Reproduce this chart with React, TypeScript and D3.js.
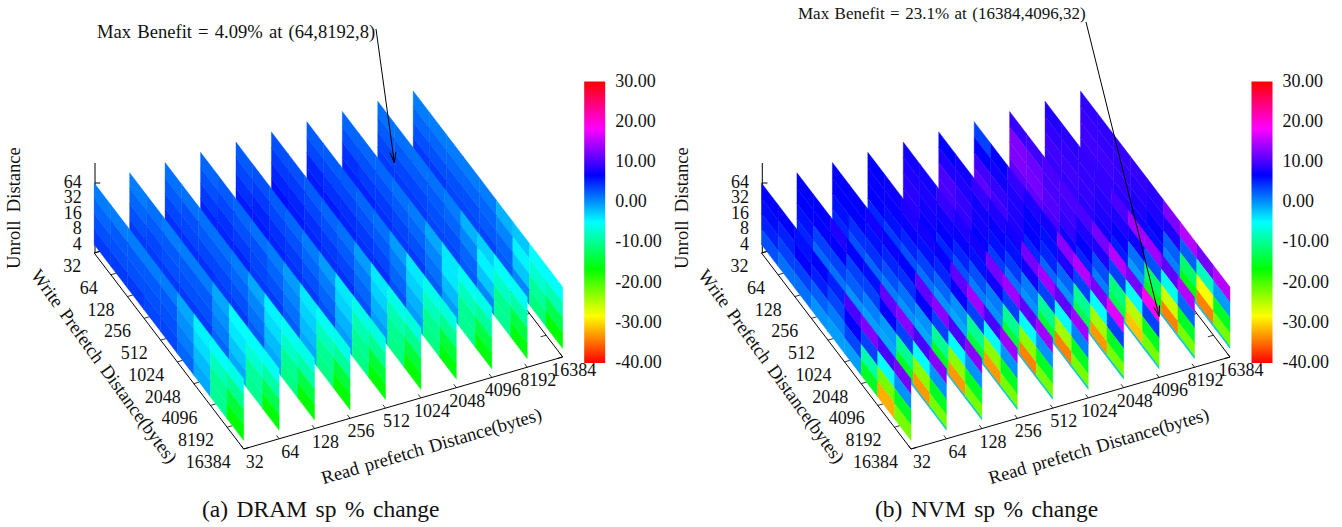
import React from "react";
import * as d3 from "d3";

const readTicks = ["32", "64", "128", "256", "512", "1024", "2048", "4096", "8192", "16384"];
const writeTicks = ["32", "64", "128", "256", "512", "1024", "2048", "4096", "8192", "16384"];
const unrollTicks = [64, 32, 16, 8, 4];
const colorTicks = [30, 20, 10, 0, -10, -20, -30, -40];

// each wall: one row per unroll band (top band first), one cell per write step
const dramWall0 = [
  [1, 1, 1, 1, 1, -1, -4.5, -5, -6],
  [2, 2.5, 2.5, 2.5, 2.5, 0, -3.5, -8, -10],
  [3, 3, 3, 3, 3, 1, -2, -10, -14],
  [4, 4, 4, 3.5, 3.5, 2, -1, -10, -16.5],
];
const dramWall1 = [
  [1, 1.5, 1, 1, 1, -1, -5, -5, -5.5],
  [2, 2.5, 2.5, 2.5, 2.5, 0, -4, -7, -9],
  [3, 3.5, 3, 3, 3, 1, -2.5, -9.5, -13],
  [4, 4, 4, 4, 4, 2, -1, -10, -16.5],
];
const dramWall2 = [
  [1.5, 1.5, 1.5, 1.5, 1, -1, -4.5, -5.5, -6],
  [2.5, 3, 2.5, 2.5, 2, 0.5, -3.5, -7.5, -9],
  [3.5, 3.5, 3.5, 3.5, 3, 1.5, -2, -10, -13.5],
  [4.5, 4.5, 4.5, 4, 4, 2.5, -1, -10.5, -16.5],
];
const dramWall3 = [
  [2, 2.5, 2, 1.5, 1, -0.5, -4, -5.5, -6],
  [3, 3.5, 3, 3, 2, 0.5, -3, -8, -9.5],
  [4, 4.5, 4, 3.5, 3, 1.5, -2, -10, -14],
  [5, 5, 5, 4, 4, 2.5, -1, -10.5, -16.5],
];
const dramWall4 = [
  [2.5, 3, 2.5, 2, 1, -0.5, -4, -6, -6.5],
  [3.5, 4, 3.5, 3, 2, 1, -3, -8.5, -10],
  [4.5, 5, 4.5, 4, 3, 2, -1.5, -10, -14],
  [5.5, 5.5, 5, 4.5, 4, 3, -0.5, -10.5, -16.5],
];
const dramWall5 = [
  [3, 3, 2.5, 2, 1.5, -0.5, -4, -6, -6.5],
  [4, 4, 3.5, 3, 2.5, 1, -3, -8.5, -10],
  [5, 5, 4.5, 4, 3.5, 2, -1.5, -10, -14],
  [6, 5.5, 5, 4.5, 4.5, 3, -0.5, -10.5, -16.5],
];
const dramWall6 = [
  [2.5, 2.5, 2.5, 2, 1.5, -0.5, -4, -6, -6.5],
  [3.5, 3.5, 3.5, 3, 2.5, 1, -3, -8, -10],
  [5, 4.5, 4.5, 4, 3.5, 2, -1.5, -10, -14],
  [5.5, 5.5, 5, 4.5, 4.5, 3, -0.5, -10.5, -16],
];
const dramWall7 = [
  [2, 2, 2, 1.5, 1, -1, -4, -5.5, -6],
  [3, 3, 3, 2.5, 2, 0.5, -4, -8, -9.5],
  [4.5, 4, 4, 3.5, 3, 1.5, -2, -10, -13.5],
  [5, 5, 4.5, 4, 4, 2.5, -0.5, -10, -16],
];
const dramWall8 = [
  [1.5, 1.5, 1.5, 1.5, 1, -1.5, -3, -5, -5.5],
  [2.5, 2.5, 2.5, 2.5, 2, 0.5, -4.5, -7.5, -9],
  [3.5, 3.5, 3.5, 3, 3, 2, -2.5, -10, -13.5],
  [4, 4, 4, 3.5, 3.5, 2.5, 0.5, -10, -16],
];
const dramWall9 = [
  [1, 1, 1, 1, 1, -1.5, -2.5, -5, -5],
  [2, 2, 2, 2, 2, 0.5, -4.5, -7, -8.5],
  [3, 3, 3, 3, 2.5, 2, -2.5, -9.5, -13],
  [4, 4, 3.5, 3.5, 3.5, 2.5, 0.5, -11, -16.5],
];

const nvmWall0 = [
  [6.7, 6.7, 6, 6.7, 5.2, 10, 12.5, 10, 12],
  [6.2, 5.2, 6.7, 5.3, 3.5, 6.7, 3.7, -5, 0],
  [5.2, 3.7, 3.7, 2.3, 1, 3.5, -9, -22, -15],
  [3, 1.5, 1.5, 0, -0.6, -0.6, -15, -32, -22],
];
const nvmWall1 = [
  [6.7, 6.7, 8, 6.7, 6, 11, 13, 10, 13],
  [6.7, 6.7, 6.7, 3.7, 3.7, 6.7, 3.7, -5, 0],
  [6, 3.7, 3.7, 2.3, 0.8, -0.5, -10, -23, -15],
  [5, 2, 1.5, 0, -0.6, -1, -15, -33, -22],
];
const nvmWall2 = [
  [6.7, 6.7, 7.5, 7, 6.7, 11, 13, 10, 13],
  [6.7, 6.7, 6, 5, 4.5, 6.7, 3.7, -5, 0],
  [6, 4.5, 4.5, 3, 1.5, 0, -10, -23, -15],
  [5, 3, 2, 1, 0, -1, -15, -33, -22],
];
const nvmWall3 = [
  [6.7, 7.2, 8, 7.5, 7, 11, 14, 10, 14],
  [7, 7, 7, 6, 5, 7, 3.7, -5, 0],
  [6.7, 6, 5, 3.7, 2, 0, -10, -23, -15],
  [5, 4, 3, 1.5, 0, -1, -14, -33, -22],
];
const nvmWall4 = [
  [7.5, 7.5, 9, 8, 7.5, 12, 14, 11, 14],
  [8, 7.8, 7.5, 7, 6, 7.5, 3.7, -5, 0],
  [8.5, 7.5, 6.7, 5, 3, 1, -10, -23, -15],
  [8.5, 7, 5, 3, 1, 0, -14, -34, -22],
];
const nvmWall5 = [
  [6.7, 7.5, 9, 8, 7.5, 12, 14, 11, 14],
  [8, 8, 7.5, 7, 6, 7.5, 3.7, -5, 0.8],
  [10, 9, 7.5, 6, 4, 1, -10, -24, -15],
  [10, 9, 6.7, 4, 1.5, 0, -14, -34, -22],
];
const nvmWall6 = [
  [3.7, 6.7, 9, 8, 7.5, 13, 15, 12, 17],
  [6.7, 7.5, 8, 7, 6, 8, 3.7, -5, 3.7],
  [9.6, 9, 8, 6.7, 5, 2, -10, -24, -15],
  [11, 9.6, 8, 5, 2, 0, -13, -33, -22],
];
const nvmWall7 = [
  [9, 9.5, 10, 10, 10, 12, 15, 12, 19],
  [12.5, 11.5, 10, 9.5, 8, 8, 3.7, -5, 3.7],
  [12.5, 12, 10.5, 9, 6.7, 3, -11, -25, -15],
  [11, 11, 10, 7.5, 5, 1, -13, -31, -22],
];
const nvmWall8 = [
  [8.1, 8.5, 9, 9, 10, 14, 14, 11, 15],
  [8.8, 9, 9, 8.5, 8, 7.5, 3, -6, 2],
  [9.6, 9.5, 9, 8, 7, 1.5, -12, -26, -15],
  [9.2, 9, 8.5, 7.5, 5.5, -0.5, -16, -34, -22],
];
const nvmWall9 = [
  [8.8, 8.8, 9, 9, 8.5, 12.5, 15, 12, 15],
  [9.2, 9, 9, 8.5, 8, 8, 2.3, -8, -0.5],
  [9.6, 9.5, 9, 8, 7, 2.3, -12, -28, -15],
  [9.2, 9, 8.5, 7.5, 6, 0.8, -16, -34, -22],
];

const dramWalls = [dramWall0, dramWall1, dramWall2, dramWall3, dramWall4, dramWall5, dramWall6, dramWall7, dramWall8, dramWall9];
const nvmWalls = [nvmWall0, nvmWall1, nvmWall2, nvmWall3, nvmWall4, nvmWall5, nvmWall6, nvmWall7, nvmWall8, nvmWall9];

// thin lighter strip along the foot of the NVM walls, none on the first one
const nvmFootStrip = [null, -2.5, -2.5, -2.5, -2.5, -2.5, -2.5, -2.5, -2.5, -2.5];
const dramFootStrip = [null, null, null, null, null, null, null, null, null, null];

const paletteValues = [30, 18.33, 6.67, -5, -16.67, -28.33, -40];
const paletteColors = ["#ff0000", "#ff00ff", "#0000ff", "#00ffff", "#00ff00", "#ffff00", "#ff0000"];

const color = d3.scaleLinear<string>().domain(paletteValues).range(paletteColors).clamp(true);

const readDx = d3.scalePoint<string>().domain(readTicks).range([0, 319]);
const readDy = d3.scalePoint<string>().domain(readTicks).range([0, -92]);
const writeDx = d3.scalePoint<string>().domain(writeTicks).range([0, 149.5]);
const writeDy = d3.scalePoint<string>().domain(writeTicks).range([0, 196]);
const unrollY = d3.scaleLog().base(2).domain([4, 64]).range([0, -61.5]);
const barY = d3.scaleLinear().domain([-40, 30]).range([363, 81.5]);

const baseY = 244.5;
const floorDrop = 8.5;
const serif = "'Liberation Serif', 'Times New Roman', serif";

type PanelProps = {
  id: string;
  left: number;
  walls: number[][][];
  footStrip: (number | null)[];
  note: string;
  noteX: number;
  noteY: number;
  noteSize: number;
  noteGap: number;
  arrowFrom: [number, number];
  arrowTo: [string, string, number];
  caption: string;
  captionX: number;
};

function Panel({ id, left, walls, footStrip, note, noteX, noteY, noteSize, noteGap, arrowFrom, arrowTo, caption, captionX }: PanelProps) {
  const px = (r: string, w: string) => left + readDx(r)! + writeDx(w)!;
  const py = (r: string, w: string, z: number) => baseY + readDy(r)! + writeDy(w)! + unrollY(z);
  const floor = (r: string, w: string): [number, number] => [px(r, w), baseY + floorDrop + readDy(r)! + writeDy(w)!];

  const cell = (r: string, w0: string, w1: string, z0: number, z1: number) =>
    d3.line()([
      [px(r, w0), py(r, w0, z0)],
      [px(r, w1), py(r, w1, z0)],
      [px(r, w1), py(r, w1, z1)],
      [px(r, w0), py(r, w0, z1)],
    ])! + "Z";

  const firstR = readTicks[0];
  const lastR = readTicks[9];
  const firstW = writeTicks[0];
  const lastW = writeTicks[9];
  const a = floor(firstR, firstW);
  const b = floor(firstR, lastW);
  const c = floor(lastR, lastW);
  const d = floor(lastR, firstW);

  const tip: [number, number] = [px(arrowTo[0], arrowTo[1]), py(arrowTo[0], arrowTo[1], arrowTo[2]) - 6.5];
  const ang = Math.atan2(tip[1] - arrowFrom[1], tip[0] - arrowFrom[0]);
  const barb = (s: number): [number, number] => [tip[0] - 11 * Math.cos(ang + s * 0.28), tip[1] - 11 * Math.sin(ang + s * 0.28)];

  const barLeft = left + 490;
  const labelStyle = { fontFamily: serif, fontSize: 18, fill: "#111" };
  const titleStyle = { fontFamily: serif, fontSize: 18.6, fill: "#111" };

  return (
    <g>
      <defs>
        <linearGradient id={id} x1="0" y1="0" x2="0" y2="1">
          {paletteValues.map((v, i) => (
            <stop key={i} offset={(30 - v) / 70} stopColor={paletteColors[i]} />
          ))}
        </linearGradient>
      </defs>

      {/* floor box and ticks go under the walls */}
      <path d={d3.line()([a, b, c, d, a])!} fill="none" stroke="#000" strokeWidth={1} />
      {writeTicks.map((w) => {
        const p = floor(firstR, w);
        const q = floor(lastR, w);
        return (
          <g key={w} stroke="#000" strokeWidth={0.8}>
            <line x1={p[0]} y1={p[1]} x2={p[0] + 5.5} y2={p[1] - 1.6} />
            <line x1={q[0]} y1={q[1]} x2={q[0] - 5.5} y2={q[1] + 1.6} />
          </g>
        );
      })}
      {readTicks.map((r) => {
        const p = floor(r, lastW);
        return <line key={r} x1={p[0]} y1={p[1]} x2={p[0] - 2.6} y2={p[1] - 3.4} stroke="#000" strokeWidth={0.8} />;
      })}
      <line x1={a[0] + 0.8} y1={163} x2={a[0] + 0.8} y2={a[1]} stroke="#000" strokeWidth={1} />
      {unrollTicks.map((z) => (
        <line key={z} x1={a[0] + 0.8} x2={a[0] + 6} y1={py(firstR, firstW, z)} y2={py(firstR, firstW, z)} stroke="#000" strokeWidth={1} />
      ))}

      {/* farthest wall first, so the front ones cover it */}
      {d3.range(walls.length - 1, -1, -1).map((i) => {
        const r = readTicks[i];
        return (
          <g key={r}>
            {walls[i].map((row, k) =>
              row.map((v, j) => (
                <path
                  key={k + "-" + j}
                  d={cell(r, writeTicks[j], writeTicks[j + 1], unrollTicks[k], unrollTicks[k + 1])}
                  fill={color(v)}
                  stroke={color(v)}
                  strokeWidth={0.4}
                />
              ))
            )}
            {footStrip[i] !== null &&
              walls[i][0].map((_, j) => (
                <path
                  key={"s" + j}
                  d={cell(r, writeTicks[j], writeTicks[j + 1], 4.45, 4)}
                  fill={color(footStrip[i] as number)}
                />
              ))}
          </g>
        );
      })}

      {unrollTicks.map((z) => (
        <text key={z} x={a[0] - 12.5} y={py(firstR, firstW, z) + 5} textAnchor="end" style={labelStyle}>
          {z}
        </text>
      ))}
      {writeTicks.map((w) => {
        const p = floor(firstR, w);
        return (
          <text key={w} x={p[0] - 13} y={p[1] + 19} textAnchor="end" style={labelStyle}>
            {w}
          </text>
        );
      })}
      {readTicks.map((r) => {
        const p = floor(r, lastW);
        return (
          <text key={r} x={p[0] + 11} y={p[1] + 19} textAnchor="middle" style={labelStyle}>
            {r}
          </text>
        );
      })}

      <text transform={`translate(${left - 74},208) rotate(-90)`} textAnchor="middle" style={titleStyle} wordSpacing={3.5}>
        Unroll Distance
      </text>
      <text transform={`translate(${left + 5},370) rotate(54)`} textAnchor="middle" style={titleStyle} wordSpacing={2.5}>
        Write Prefetch Distance(bytes)
      </text>
      <text transform={`translate(${left + 339},452) rotate(-16.4)`} textAnchor="middle" style={titleStyle} wordSpacing={1.8}>
        Read prefetch Distance(bytes)
      </text>

      <text x={noteX} y={noteY} style={{ ...labelStyle, fontSize: noteSize }} wordSpacing={noteGap}>
        {note}
      </text>
      <line x1={arrowFrom[0]} y1={arrowFrom[1]} x2={tip[0]} y2={tip[1]} stroke="#000" strokeWidth={1} />
      <path d={d3.line()([barb(1), tip, barb(-1)])!} fill="none" stroke="#000" strokeWidth={1} />

      <rect x={barLeft} y={barY(30)} width={21} height={barY(-40) - barY(30)} fill={`url(#${id})`} />
      {colorTicks.map((t) => (
        <text key={t} x={barLeft + 31} y={barY(t) + 5} style={labelStyle}>
          {t.toFixed(2)}
        </text>
      ))}

      <text x={captionX} y={517} style={{ fontFamily: serif, fontSize: 23.5, fill: "#111" }} wordSpacing={2.6}>
        {caption}
      </text>
    </g>
  );
}

export default function App() {
  return (
    <svg width={1342} height={527} style={{ position: "absolute", left: 0, top: 0, background: "#fff" }}>
      <Panel
        id="barA"
        left={94.2}
        walls={dramWalls}
        footStrip={dramFootStrip}
        note="Max Benefit = 4.09% at (64,8192,8)"
        noteX={97}
        noteY={38}
        noteSize={18.6}
        noteGap={1.5}
        arrowFrom={[376, 29]}
        arrowTo={["8192", "64", 8]}
        caption="(a) DRAM sp % change"
        captionX={202}
      />
      <Panel
        id="barB"
        left={761.5}
        walls={nvmWalls}
        footStrip={nvmFootStrip}
        note="Max Benefit = 23.1% at (16384,4096,32)"
        noteX={798}
        noteY={19}
        noteSize={17}
        noteGap={1.2}
        arrowFrom={[1086, 22]}
        arrowTo={["4096", "16384", 32]}
        caption="(b) NVM sp % change"
        captionX={875}
      />
    </svg>
  );
}
